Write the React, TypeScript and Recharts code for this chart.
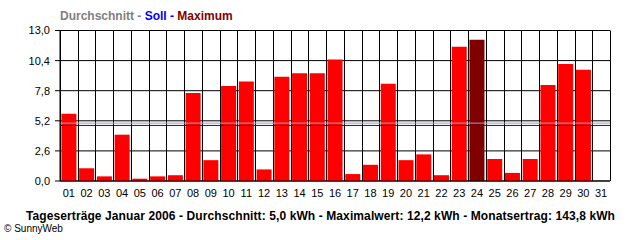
import React from "react";
import {
  ComposedChart,
  Bar,
  Cell,
  XAxis,
  YAxis,
  CartesianGrid,
  ReferenceLine,
} from "recharts";

const days = [
  "01", "02", "03", "04", "05", "06", "07", "08", "09", "10",
  "11", "12", "13", "14", "15", "16", "17", "18", "19", "20",
  "21", "22", "23", "24", "25", "26", "27", "28", "29", "30", "31",
];
const yields = [
  5.8, 1.1, 0.4, 4.0, 0.2, 0.4, 0.5, 7.6, 1.8, 8.2,
  8.6, 1.0, 9.0, 9.3, 9.3, 10.5, 0.6, 1.4, 8.4, 1.8,
  2.3, 0.5, 11.6, 12.2, 1.9, 0.7, 1.9, 8.3, 10.1, 9.6, 0,
];
const yTicks = [0, 2.6, 5.2, 7.8, 10.4, 13.0];
const boundaryTicks = Array.from({ length: 32 }, (_, i) => i);
const average = 5.0;
const target = 4.8;
const maxIndex = 23;

const data = days.map((d, i) => ({ day: d, value: yields[i] }));

const FONT = '"Liberation Sans", Arial, sans-serif';

const verticalLines = ({ offset }: any) =>
  boundaryTicks.map((i) => Math.round(offset.left + (i * offset.width) / days.length) + 0.5);

export default function App() {
  return (
    <div style={{ position: "absolute", left: 0, top: 0, width: 640, height: 240, background: "#fff" }}>
      <div
        style={{
          position: "absolute",
          left: 60,
          top: 9,
          fontFamily: FONT,
          fontWeight: "bold",
          fontSize: 12,
          lineHeight: "14px",
          whiteSpace: "pre",
        }}
      >
        <span style={{ color: "#808080" }}>Durchschnitt - </span>
        <span style={{ color: "#0000FF" }}>Soll - </span>
        <span style={{ color: "#800000" }}>Maximum</span>
      </div>
      <ComposedChart
        width={640}
        height={240}
        data={data}
        margin={{ top: 30.5, right: 30, bottom: 39, left: 0 }}
        barCategoryGap="8%"
      >
        <CartesianGrid
          stroke="#000"
          strokeWidth={1}
          horizontal={true}
          vertical={true}
          verticalCoordinatesGenerator={verticalLines}
        />
        <XAxis
          xAxisId="b"
          type="number"
          dataKey={() => 0}
          domain={[0, 31]}
          ticks={boundaryTicks}
          interval={0}
          height={0}
          tick={false}
          tickSize={5}
          tickLine={{ stroke: "#000" }}
          axisLine={false}
          allowDataOverflow
        />
        <XAxis
          dataKey="day"
          interval={0}
          height={20}
          tickLine={false}
          tickSize={6}
          tickMargin={2}
          axisLine={{ stroke: "#000" }}
          tick={{ fill: "#000", fontSize: 11, fontFamily: '"Liberation Sans Narrow", "Liberation Sans", sans-serif' }}
        />
        <YAxis
          width={60}
          domain={[0, 13]}
          ticks={yTicks}
          interval={0}
          tickSize={5}
          tickMargin={5}
          tickLine={{ stroke: "#000" }}
          axisLine={{ stroke: "#000" }}
          tickFormatter={(v: number) => v.toFixed(1).replace(".", ",")}
          tick={{ fill: "#000", fontSize: 11, fontFamily: FONT }}
        />
        <Bar dataKey="value" isAnimationActive={false}>
          {data.map((_, i) => (
            <Cell key={i} fill={i === maxIndex ? "#800000" : "#FF0000"} />
          ))}
        </Bar>
        <ReferenceLine y={average} stroke="#A0A0A0" strokeWidth={1} ifOverflow="visible" />
        <ReferenceLine y={target} stroke="#0000FF" strokeWidth={1} ifOverflow="visible" />
      </ComposedChart>
      <div
        style={{
          position: "absolute",
          left: 0,
          width: 641,
          top: 209,
          textAlign: "center",
          fontFamily: FONT,
          fontWeight: "bold",
          fontSize: 12,
          letterSpacing: "0.1px",
          lineHeight: "14px",
          whiteSpace: "nowrap",
          color: "#000",
        }}
      >
        Tageserträge Januar 2006 - Durchschnitt: 5,0 kWh - Maximalwert: 12,2 kWh - Monatsertrag: 143,8 kWh
      </div>
      <div
        style={{
          position: "absolute",
          left: 4,
          top: 223,
          fontFamily: FONT,
          fontSize: 10,
          lineHeight: "12px",
          whiteSpace: "nowrap",
          color: "#000",
        }}
      >
        © SunnyWeb
      </div>
    </div>
  );
}
